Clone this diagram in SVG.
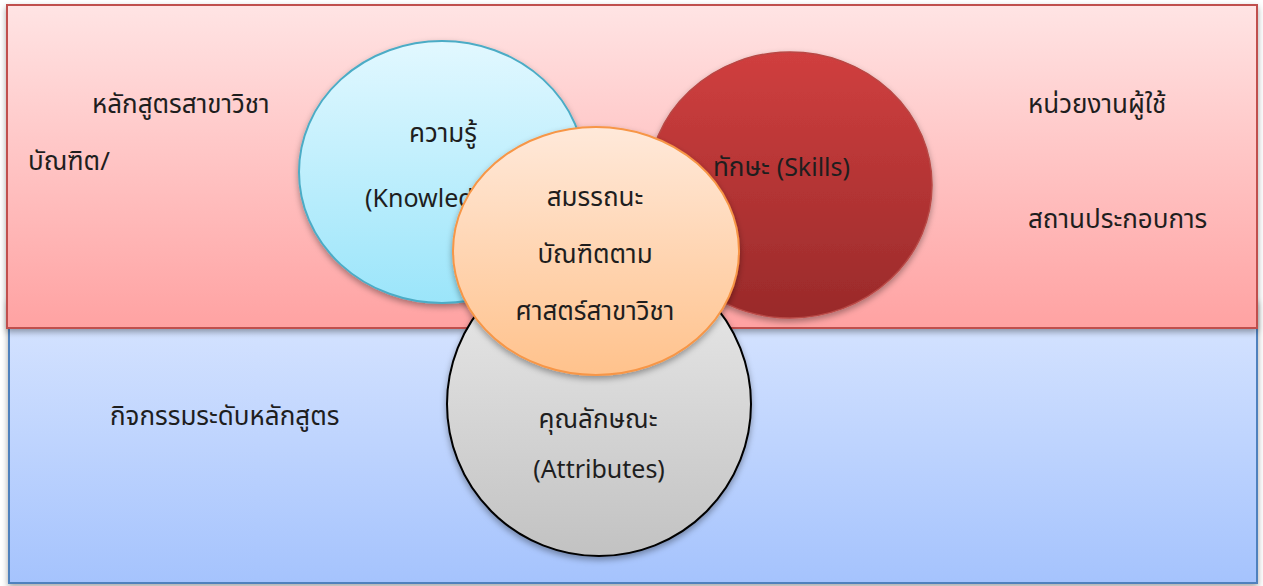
<svg xmlns="http://www.w3.org/2000/svg" width="1263" height="586" viewBox="0 0 1263 586">
<defs>
<linearGradient id="gPink" x1="0" y1="0" x2="0" y2="1"><stop offset="0" stop-color="#ffe4e4"/><stop offset="1" stop-color="#ffa2a2"/></linearGradient>
<linearGradient id="gBlue" x1="0" y1="0" x2="0" y2="1"><stop offset="0" stop-color="#d8e5ff"/><stop offset="1" stop-color="#a5c3fd"/></linearGradient>
<linearGradient id="gCyan" x1="0" y1="0" x2="0" y2="1"><stop offset="0" stop-color="#e2f8ff"/><stop offset="1" stop-color="#9be5fa"/></linearGradient>
<linearGradient id="gRed" x1="0" y1="0" x2="0" y2="1"><stop offset="0" stop-color="#d03f3f"/><stop offset="1" stop-color="#992a2a"/></linearGradient>
<linearGradient id="gOrange" x1="0" y1="0" x2="0" y2="1"><stop offset="0" stop-color="#ffe9da"/><stop offset="1" stop-color="#ffc28c"/></linearGradient>
<linearGradient id="gGrey" x1="0" y1="0" x2="0" y2="1"><stop offset="0" stop-color="#ececec"/><stop offset="1" stop-color="#c2c2c2"/></linearGradient>
<filter id="sh" x="-10%" y="-10%" width="120%" height="125%"><feDropShadow dx="0" dy="3" stdDeviation="3" flood-color="#000" flood-opacity="0.35"/></filter>
</defs>
<style>
text{font-family:"Noto Sans","Noto Sans Thai","DejaVu Sans",sans-serif;font-size:26px;fill:#1e1e1e}
.c{text-anchor:middle}
.en{font-size:25px}
</style>
<g id="band-bottom"><rect x="9" y="300" width="1248" height="283" fill="url(#gBlue)" stroke="#4f81bd" stroke-width="2" filter="url(#sh)"/>
<text x="110" y="425">กิจกรรมระดับหลักสูตร</text></g>
<g id="band-top"><rect x="7" y="5" width="1250" height="323" fill="url(#gPink)" stroke="#c0504d" stroke-width="2" filter="url(#sh)"/>
<text x="92" y="113">หลักสูตรสาขาวิชา</text>
<text x="28" y="170">บัณฑิต/</text>
<text x="1028" y="113">หน่วยงานผู้ใช้</text>
<text x="1028" y="228">สถานประกอบการ</text></g>
<g id="knowledge"><ellipse cx="442" cy="172" rx="143" ry="131" fill="url(#gCyan)" stroke="#4bacc6" stroke-width="2" filter="url(#sh)"/>
<text class="c" x="443" y="142">ความรู้</text>
<text class="en" x="365" y="207">(Knowledge)</text></g>
<g id="skills"><ellipse cx="790" cy="185" rx="142" ry="133" fill="url(#gRed)" stroke="#b84845" stroke-width="1.5" filter="url(#sh)"/>
<text x="713" y="176">ทักษะ <tspan class="en">(Skills)</tspan></text></g>
<g id="attributes"><ellipse cx="599" cy="404" rx="152" ry="152" fill="url(#gGrey)" stroke="#000" stroke-width="2" filter="url(#sh)"/>
<text class="c" x="598" y="428">คุณลักษณะ</text>
<text class="c en" x="599" y="478">(Attributes)</text></g>
<g id="competency"><ellipse cx="596" cy="251" rx="143" ry="124" fill="url(#gOrange)" stroke="#f79646" stroke-width="2" filter="url(#sh)"/>
<text class="c" x="595" y="206">สมรรถนะ</text>
<text class="c" x="595" y="263">บัณฑิตตาม</text>
<text class="c" x="595" y="320">ศาสตร์สาขาวิชา</text></g>
<g id="connectors"/>
</svg>
